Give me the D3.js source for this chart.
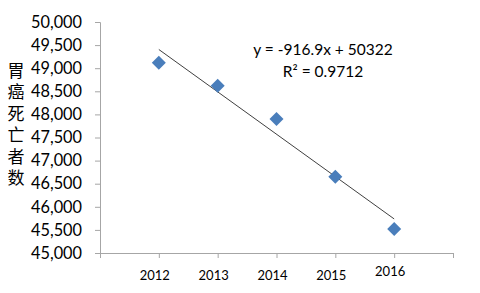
<!DOCTYPE html>
<html>
<head>
<meta charset="utf-8">
<script src="https://cdn.jsdelivr.net/npm/d3@7"></script>
<style>
  body { margin: 0; background: #fff; }
  .axis path, .axis line { stroke: #a6a6a6; }
  .axis text { font-family: Lato, "Open Sans", sans-serif; fill: #000; }
</style>
</head>
<body>
<div id="chart"></div>
<script>
const years = [2012, 2013, 2014, 2015, 2016];
const deaths = [49120, 48620, 47900, 46650, 45520];
const yTicks = [45000, 45500, 46000, 46500, 47000, 47500, 48000, 48500, 49000, 49500, 50000];
const xTicks = [2011, 2012, 2013, 2014, 2015, 2016, 2017];
const yLabel = "胃癌死亡者数";
const slope = -916.9, intercept = 50322;
const eqText = "y = -916.9x + 50322";
const r2Text = "R² = 0.9712";

const width = 480, height = 293;
const margin = { top: 22, right: 27, bottom: 40, left: 100 };

const svg = d3.select("#chart")
    .append("svg")
    .attr("width", width)
    .attr("height", height);

const x = d3.scaleLinear()
    .domain([2011, 2017])
    .range([margin.left, width - margin.right]);

const y = d3.scaleLinear()
    .domain([45000, 50000])
    .range([height - margin.bottom, margin.top]);

// y axis
svg.append("g")
    .attr("class", "axis")
    .attr("transform", `translate(${margin.left},0)`)
    .call(d3.axisLeft(y).tickValues(yTicks).tickFormat(d3.format(",")).tickSizeOuter(0).tickSize(5).tickPadding(13))
    .call(g => g.selectAll("text").style("font-size", "16.3px"));

// x axis, labels drawn separately
svg.append("g")
    .attr("class", "axis")
    .attr("transform", `translate(0,${y(45000)})`)
    .call(d3.axisBottom(x).tickValues(xTicks).tickFormat("").tickSizeOuter(0).tickSize(5));

svg.append("g")
    .selectAll("text")
    .data(years)
    .join("text")
    .attr("x", d => x(d) - 4)
    .attr("y", (d, i) => i === years.length - 1 ? 276 : 280)
    .attr("text-anchor", "middle")
    .style("font-family", "Lato, 'Open Sans', sans-serif")
    .style("font-size", "13px")
    .text(d => d);

// vertical y label, one text running top to bottom
svg.append("text")
    .attr("x", 16)
    .attr("y", 62)
    .style("writing-mode", "vertical-rl")
    .style("text-orientation", "upright")
    .style("letter-spacing", "4.5px")
    .style("font-family", "'Noto Sans CJK SC', sans-serif")
    .style("font-size", "17px")
    .text(yLabel);

// trend line
const idx = d => d - 2011;
svg.append("line")
    .attr("x1", x(years[0]))
    .attr("y1", y(intercept + slope * idx(years[0])))
    .attr("x2", x(years[years.length - 1]))
    .attr("y2", y(intercept + slope * idx(years[years.length - 1])))
    .attr("stroke", "#404040")
    .attr("stroke-width", 1);

// diamond markers
const r = 7;
svg.append("g")
    .selectAll("path")
    .data(years)
    .join("path")
    .attr("d", `M0,${-r}L${r},0L0,${r}L${-r},0Z`)
    .attr("transform", (d, i) => `translate(${x(d)},${y(deaths[i])})`)
    .attr("fill", "#4a7ebb");

// equation
const eq = svg.append("g")
    .style("font-family", "Lato, 'Open Sans', sans-serif")
    .style("font-size", "15.5px")
    .attr("text-anchor", "middle");
eq.append("text").attr("x", 323).attr("y", 55).text(eqText);
eq.append("text").attr("x", 323).attr("y", 77).text(r2Text);
</script>
</body>
</html>
